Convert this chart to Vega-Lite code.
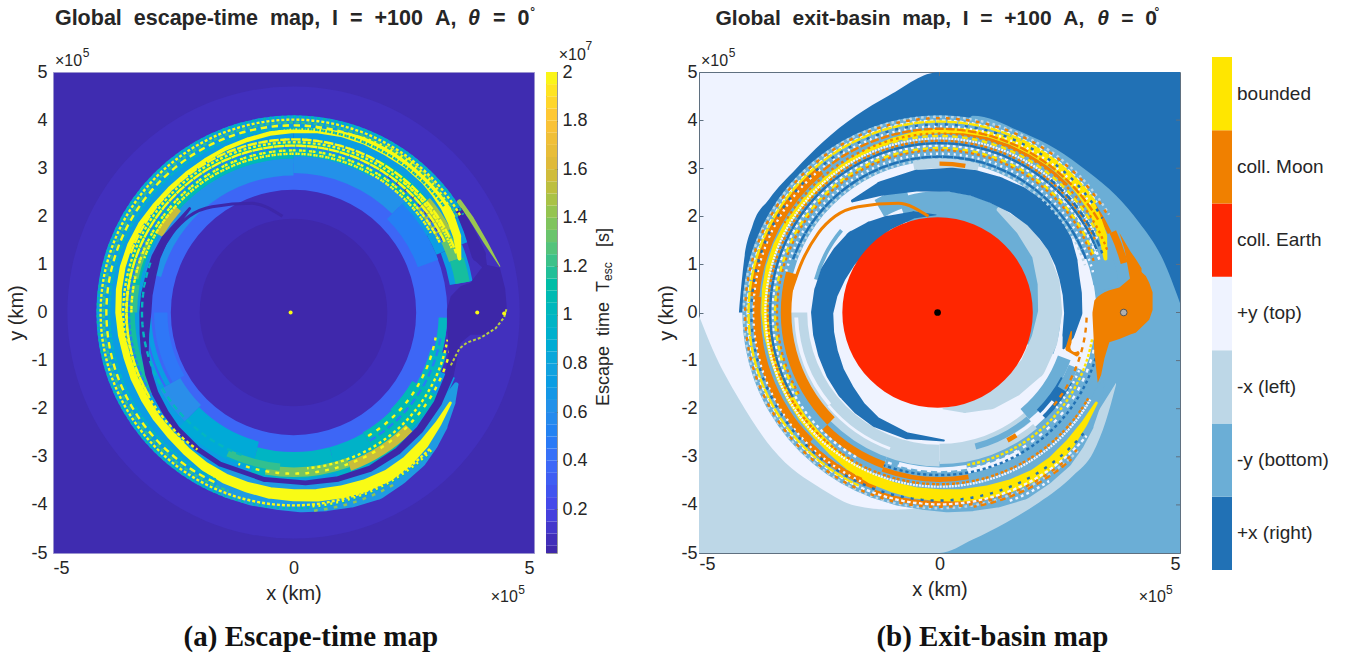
{"$schema":"https://vega.github.io/schema/vega-lite/v6.json","background":"white","padding":{"left":6,"top":5,"right":0,"bottom":0},"bounds":"flush","spacing":12,
"config":{"font":"Liberation Sans","view":{"strokeWidth":1},"axis":{"grid":false,"domain":false,"zindex":1,"labelFont":"Liberation Sans","titleFont":"Liberation Sans","labelFontSize":18,"titleFontSize":20,"titleFontWeight":"normal","labelColor":"#262626","titleColor":"#262626"}},
"datasets":{
"one":[{"n":1}],
"arcsA":[
{"a":0,"b":360,"r":0,"s":4.7,"v":0.08},
{"a":0,"b":360,"r":0,"s":3.2,"v":0.36},
{"a":0,"b":60,"r":3.1,"s":4.1,"v":0.72},{"a":60,"b":68,"r":3.2,"s":4.1,"v":0.72},{"a":68,"b":80,"r":3.3,"s":3.78,"v":0.72},
{"a":112,"b":200,"r":3.1,"s":3.62,"v":0.72},{"a":200,"b":360,"r":3.1,"s":4.1,"v":0.72},
{"a":285,"b":360,"r":2.85,"s":3.2,"v":0.62},{"a":0,"b":45,"r":2.9,"s":3.3,"v":0.62},{"a":45,"b":70,"r":2.75,"s":3.2,"v":0.5},
{"a":300,"b":360,"r":3.2,"s":3.55,"v":1.05},{"a":0,"b":30,"r":3.25,"s":3.55,"v":1.0},{"a":30,"b":50,"r":3.3,"s":3.65,"v":1.1},{"a":280,"b":300,"r":3.25,"s":3.55,"v":1.1},{"a":270,"b":280,"r":3.25,"s":3.5,"v":1.2},{"a":240,"b":270,"r":3.3,"s":3.5,"v":1.15},
{"a":300,"b":312,"r":3.15,"s":3.32,"v":1.55},{"a":282,"b":296,"r":3.3,"s":3.42,"v":1.3},
{"a":50,"b":62,"r":3.35,"s":3.7,"v":1.45},{"a":62,"b":72,"r":3.4,"s":3.65,"v":1.3},{"a":72,"b":80,"r":3.42,"s":3.72,"v":1.15},
{"a":92,"b":105,"r":3.02,"s":3.2,"v":1.0},{"a":105,"b":120,"r":2.95,"s":3.3,"v":1.0},{"a":120,"b":135,"r":2.85,"s":3.45,"v":1.05},{"a":135,"b":150,"r":2.88,"s":3.55,"v":1.05},{"a":150,"b":165,"r":2.9,"s":3.55,"v":0.95},{"a":165,"b":195,"r":2.9,"s":3.45,"v":0.98},{"a":195,"b":225,"r":2.78,"s":3.35,"v":0.85},{"a":225,"b":240,"r":2.72,"s":3.2,"v":0.6},{"a":240,"b":270,"r":2.62,"s":2.9,"v":0.45},
{"a":135,"b":160,"r":3.3,"s":3.5,"v":1.55},{"a":160,"b":190,"r":3.22,"s":3.42,"v":1.35},{"a":185,"b":205,"r":3.15,"s":3.3,"v":1.2},
{"a":240,"b":268,"r":2.96,"s":3.06,"v":0.72},
{"a":0,"b":360,"r":0,"s":2.55,"v":0.065},{"a":0,"b":360,"r":0,"s":1.95,"v":0.03}],
"lowerRing":[{"i":1,"x":3.38,"y":-1.5,"w":0.1},{"i":2,"x":3.22,"y":-1.86,"w":0.3},{"i":3,"x":2.96,"y":-2.32,"w":0.5},{"i":4,"x":2.74,"y":-2.65,"w":0.58},{"i":5,"x":2.48,"y":-2.96,"w":0.65},{"i":6,"x":2.09,"y":-3.28,"w":0.69},{"i":7,"x":1.66,"y":-3.55,"w":0.72},{"i":8,"x":1.17,"y":-3.72,"w":0.67},{"i":9,"x":0.67,"y":-3.82,"w":0.62},{"i":10,"x":0.17,"y":-3.85,"w":0.61},{"i":11,"x":-0.33,"y":-3.8,"w":0.6},{"i":12,"x":-0.82,"y":-3.72,"w":0.6},{"i":13,"x":-1.3,"y":-3.57,"w":0.6}],
"yellowPath":[{"i":1,"x":3.26,"y":-1.88,"w":0.06},{"i":2,"x":3.01,"y":-2.31,"w":0.13},{"i":3,"x":2.72,"y":-2.72,"w":0.2},{"i":4,"x":2.37,"y":-3.09,"w":0.23},{"i":5,"x":1.96,"y":-3.39,"w":0.25},{"i":6,"x":1.49,"y":-3.6,"w":0.26},{"i":7,"x":1.0,"y":-3.73,"w":0.27},{"i":8,"x":0.5,"y":-3.8,"w":0.26},{"i":9,"x":0,"y":-3.8,"w":0.25},{"i":10,"x":-0.5,"y":-3.75,"w":0.24},{"i":11,"x":-0.97,"y":-3.63,"w":0.22},{"i":12,"x":-1.43,"y":-3.45,"w":0.21},{"i":13,"x":-1.85,"y":-3.2,"w":0.2},{"i":14,"x":-2.22,"y":-2.89,"w":0.18},{"i":15,"x":-2.55,"y":-2.55,"w":0.17},{"i":16,"x":-2.85,"y":-2.19,"w":0.16},{"i":17,"x":-3.1,"y":-1.79,"w":0.16},{"i":18,"x":-3.31,"y":-1.37,"w":0.155},{"i":19,"x":-3.46,"y":-0.93,"w":0.15},{"i":20,"x":-3.58,"y":-0.47,"w":0.14},{"i":21,"x":-3.64,"y":0,"w":0.13},{"i":22,"x":-3.63,"y":0.48,"w":0.125},{"i":23,"x":-3.55,"y":0.95,"w":0.12},{"i":24,"x":-3.4,"y":1.41,"w":0.11},{"i":25,"x":-3.18,"y":1.84,"w":0.1},{"i":26,"x":-2.89,"y":2.22,"w":0.1},{"i":27,"x":-2.57,"y":2.57,"w":0.1},{"i":28,"x":-2.22,"y":2.89,"w":0.09},{"i":29,"x":-1.83,"y":3.17,"w":0.08},{"i":30,"x":-1.41,"y":3.41,"w":0.085},{"i":31,"x":-0.96,"y":3.59,"w":0.09},{"i":32,"x":-0.49,"y":3.72,"w":0.095},{"i":33,"x":0,"y":3.78,"w":0.1},{"i":34,"x":0.5,"y":3.78,"w":0.11},{"i":35,"x":0.99,"y":3.71,"w":0.12},{"i":36,"x":1.48,"y":3.57,"w":0.16},{"i":37,"x":1.94,"y":3.36,"w":0.2},{"i":38,"x":2.37,"y":3.09,"w":0.2},{"i":39,"x":2.75,"y":2.75,"w":0.2},{"i":40,"x":2.96,"y":2.49,"w":0.2},{"i":41,"x":3.15,"y":2.21,"w":0.2},{"i":42,"x":3.29,"y":1.9,"w":0.18},{"i":43,"x":3.4,"y":1.59,"w":0.17},{"i":44,"x":3.45,"y":1.12,"w":0.08}],
"channel":[{"i":1,"x":3.37,"y":-0.6,"w":0.2},{"i":2,"x":3.24,"y":-1.31,"w":0.18},{"i":3,"x":3.0,"y":-1.88,"w":0.17},{"i":4,"x":2.62,"y":-2.44,"w":0.16},{"i":5,"x":2.17,"y":-2.88,"w":0.145},{"i":6,"x":1.59,"y":-3.25,"w":0.13},{"i":7,"x":0.93,"y":-3.46,"w":0.115},{"i":8,"x":0.25,"y":-3.54,"w":0.1},{"i":9,"x":-0.61,"y":-3.47,"w":0.1},{"i":10,"x":-1.53,"y":-3.15,"w":0.1},{"i":11,"x":-1.99,"y":-2.84,"w":0.11},{"i":12,"x":-2.42,"y":-2.42,"w":0.12},{"i":13,"x":-2.66,"y":-2.08,"w":0.13},{"i":14,"x":-2.88,"y":-1.67,"w":0.14},{"i":15,"x":-3.01,"y":-1.28,"w":0.15},{"i":16,"x":-3.09,"y":-0.83,"w":0.16},{"i":17,"x":-3.1,"y":-0.44,"w":0.2},{"i":18,"x":-3.08,"y":0,"w":0.25},{"i":19,"x":-3.05,"y":0.37,"w":0.24},{"i":20,"x":-2.96,"y":0.79,"w":0.22},{"i":21,"x":-2.86,"y":1.15,"w":0.19},{"i":22,"x":-2.67,"y":1.54,"w":0.15},{"i":23,"x":-2.16,"y":2.16,"w":0.06}],
"wedgeDark":[{"i":1,"x":3.45,"y":2.1,"w":0.15},{"i":2,"x":3.65,"y":1.7,"w":0.22},{"i":3,"x":3.85,"y":1.2,"w":0.3},{"i":4,"x":3.98,"y":0.95,"w":0.1}],
"wedgeEdge":[{"i":1,"x":3.45,"y":2.3,"w":0.1},{"i":2,"x":3.7,"y":1.95,"w":0.1},{"i":3,"x":4.0,"y":1.45,"w":0.08},{"i":4,"x":4.29,"y":0.96,"w":0.02}],
"dashA":[
{"a":135,"b":420,"r":4.07,"v":1.1,"d":"p1"},{"a":135,"b":420,"r":4.01,"v":2,"d":"p2"},{"a":200,"b":420,"r":3.95,"v":1.2,"d":"p1"},{"a":205,"b":420,"r":3.89,"v":2,"d":"p3"},{"a":205,"b":415,"r":3.83,"v":1.0,"d":"p1"},{"a":290,"b":430,"r":3.6,"v":2,"d":"p3"},{"a":220,"b":420,"r":3.54,"v":2,"d":"p2"},{"a":240,"b":425,"r":3.47,"v":2,"d":"p3"},{"a":240,"b":425,"r":3.42,"v":0.5,"d":"p1"},{"a":270,"b":425,"r":3.37,"v":2,"d":"p2"},{"a":290,"b":420,"r":3.3,"v":2,"d":"p1"},{"a":40,"b":68,"r":3.55,"v":2,"d":"p1"},{"a":35,"b":65,"r":3.45,"v":0.05,"d":"p2"},{"a":100,"b":200,"r":3.35,"v":2,"d":"p2"},{"a":100,"b":175,"r":3.25,"v":2,"d":"p1"},{"a":100,"b":150,"r":3.1,"v":0.5,"d":"p3"},{"a":100,"b":150,"r":3.0,"v":2,"d":"p2"},{"a":135,"b":175,"r":4.05,"v":2,"d":"p1"},{"a":150,"b":175,"r":4.14,"v":1.4,"d":"p2"},{"a":200,"b":290,"r":3.15,"v":1.0,"d":"p2"},{"a":215,"b":285,"r":3.48,"v":2,"d":"p1"}],
"moonA":[{"x":3.19,"y":0.06,"y2":-0.28},{"x":3.27,"y":0.34,"y2":-1.32},{"x":3.37,"y":0.44,"y2":-0.84},{"x":3.48,"y":0.55,"y2":-0.63},{"x":3.68,"y":0.62,"y2":-0.46},{"x":3.88,"y":0.89,"y2":-0.46},{"x":3.98,"y":1.0,"y2":-0.46},{"x":4.15,"y":0.96,"y2":-0.35},{"x":4.29,"y":0.93,"y2":-0.2},{"x":4.4,"y":0.5,"y2":-0.08},{"x":4.43,"y":0.15,"y2":-0.02}],
"edgeA":[{"i":1,"x":3.27,"y":-1.1},{"i":2,"x":3.45,"y":-0.75},{"i":3,"x":3.6,"y":-0.63},{"i":4,"x":3.9,"y":-0.52},{"i":5,"x":4.2,"y":-0.33},{"i":6,"x":4.38,"y":-0.1},{"i":7,"x":4.43,"y":0.08}],
"spiral":[{"i":1,"x":-3.07,"y":0.48},{"i":2,"x":-2.9,"y":0.96},{"i":3,"x":-2.52,"y":1.65},{"i":4,"x":-2.17,"y":2.0},{"i":5,"x":-1.69,"y":2.2},{"i":6,"x":-0.86,"y":2.27},{"i":7,"x":-0.23,"y":2.0}],
"ptsA":[{"x":-0.06,"y":0},{"x":3.82,"y":0},{"x":4.38,"y":-0.02}],
"cbar":[{"y":0.02,"y2":0.05,"v":0.03},{"y":0.05,"y2":0.1,"v":0.07},{"y":0.1,"y2":0.15,"v":0.12},{"y":0.15,"y2":0.2,"v":0.17},{"y":0.2,"y2":0.25,"v":0.22},{"y":0.25,"y2":0.3,"v":0.27},{"y":0.3,"y2":0.35,"v":0.32},{"y":0.35,"y2":0.4,"v":0.37},{"y":0.4,"y2":0.45,"v":0.42},{"y":0.45,"y2":0.5,"v":0.47},{"y":0.5,"y2":0.55,"v":0.52},{"y":0.55,"y2":0.6,"v":0.57},{"y":0.6,"y2":0.65,"v":0.62},{"y":0.65,"y2":0.7,"v":0.67},{"y":0.7,"y2":0.75,"v":0.72},{"y":0.75,"y2":0.8,"v":0.77},{"y":0.8,"y2":0.85,"v":0.82},{"y":0.85,"y2":0.9,"v":0.87},{"y":0.9,"y2":0.95,"v":0.92},{"y":0.95,"y2":1.0,"v":0.97},{"y":1.0,"y2":1.05,"v":1.02},{"y":1.05,"y2":1.1,"v":1.07},{"y":1.1,"y2":1.15,"v":1.12},{"y":1.15,"y2":1.2,"v":1.17},{"y":1.2,"y2":1.25,"v":1.22},{"y":1.25,"y2":1.3,"v":1.27},{"y":1.3,"y2":1.35,"v":1.32},{"y":1.35,"y2":1.4,"v":1.37},{"y":1.4,"y2":1.45,"v":1.42},{"y":1.45,"y2":1.5,"v":1.47},{"y":1.5,"y2":1.55,"v":1.52},{"y":1.55,"y2":1.6,"v":1.57},{"y":1.6,"y2":1.65,"v":1.62},{"y":1.65,"y2":1.7,"v":1.67},{"y":1.7,"y2":1.75,"v":1.72},{"y":1.75,"y2":1.8,"v":1.77},{"y":1.8,"y2":1.85,"v":1.82},{"y":1.85,"y2":1.9,"v":1.87},{"y":1.9,"y2":1.95,"v":1.92},{"y":1.95,"y2":2.0,"v":1.98}],
"darkB":[{"x":-4.17,"y":0,"y2":0},{"x":-4.06,"y":1.11,"y2":0},{"x":-3.89,"y":1.8,"y2":0},{"x":-3.54,"y":2.36,"y2":0},{"x":-2.99,"y":2.98,"y2":0},{"x":-2.43,"y":3.54,"y2":0},{"x":-1.74,"y":4.09,"y2":0},{"x":-1.05,"y":4.51,"y2":0},{"x":0,"y":5,"y2":0},{"x":5,"y":5,"y2":0}],
"medB":[{"x":0,"y":0,"y2":-5},{"x":0.69,"y":4.09,"y2":-5},{"x":1.73,"y":3.74,"y2":-5},{"x":2.42,"y":3.4,"y2":-5},{"x":3.11,"y":2.91,"y2":-5},{"x":3.67,"y":2.43,"y2":-5},{"x":4.15,"y":1.87,"y2":-5},{"x":4.64,"y":1.11,"y2":-5},{"x":5,"y":0.2,"y2":-5}],
"paleB":[{"x":-5,"y":-0.07,"y2":-5},{"x":-4.72,"y":-0.76,"y2":-5},{"x":-4.17,"y":-1.8,"y2":-5},{"x":-3.47,"y":-2.84,"y2":-5},{"x":-2.43,"y":-3.68,"y2":-5},{"x":-1.74,"y":-4.02,"y2":-5},{"x":-1,"y":-4.1,"y2":-5},{"x":0,"y":-4.0,"y2":-5},{"x":0.69,"y":-3.8,"y2":-4.72},{"x":1.38,"y":-3.5,"y2":-4.37},{"x":2.07,"y":-3.2,"y2":-3.95},{"x":2.77,"y":-2.7,"y2":-3.4},{"x":3.2,"y":-2.2,"y2":-2.9},{"x":3.46,"y":-1.8,"y2":-2.25},{"x":3.67,"y":-1.46,"y2":-1.5}],
"arcsB":[
{"a":0,"b":360,"r":0,"s":3.25,"c":"T"},
{"a":0,"b":60,"r":3.15,"s":4.1,"c":"B"},{"a":60,"b":68,"r":3.2,"s":4.1,"c":"B"},{"a":68,"b":82,"r":3.3,"s":3.78,"c":"B"},{"a":112,"b":200,"r":3.1,"s":3.62,"c":"B"},{"a":200,"b":360,"r":3.15,"s":4.1,"c":"B"},
{"a":350,"b":375,"r":3.0,"s":3.2,"c":"L"},{"a":0,"b":10,"r":3.05,"s":3.14,"c":"M"},
{"a":340,"b":470,"r":1.9,"s":2.52,"c":"B"},
{"a":285,"b":310,"r":2.62,"s":2.7,"c":"B"},{"a":330,"b":345,"r":2.3,"s":2.7,"c":"B"},
{"a":180,"b":270,"r":2.75,"s":3.2,"c":"L"},{"a":140,"b":180,"r":2.73,"s":3.15,"c":"L"},{"a":230,"b":268,"r":2.94,"s":3.02,"c":"T"},{"a":200,"b":230,"r":2.98,"s":3.04,"c":"T"},
{"a":110,"b":140,"r":2.62,"s":2.9,"c":"B"},{"a":118,"b":135,"r":2.86,"s":3.12,"c":"R"},{"a":112,"b":122,"r":2.9,"s":3.1,"c":"B"},{"a":128,"b":150,"r":2.96,"s":3.03,"c":"T"},{"a":148,"b":152,"r":2.96,"s":3.06,"c":"M"},{"a":140,"b":165,"r":2.82,"s":2.95,"c":"B"},
{"a":80,"b":100,"r":3.0,"s":3.26,"c":"T"},
{"a":225,"b":285,"r":3.08,"s":3.3,"c":"M"},{"a":200,"b":225,"r":3.3,"s":3.45,"c":"M"},{"a":170,"b":200,"r":3.42,"s":3.52,"c":"M"},{"a":150,"b":170,"r":3.3,"s":3.4,"c":"T"},{"a":170,"b":195,"r":3.22,"s":3.3,"c":"T"},
{"a":275,"b":320,"r":3.76,"s":3.95,"c":"M"},{"a":225,"b":275,"r":3.72,"s":3.88,"c":"M"},{"a":200,"b":225,"r":3.8,"s":3.92,"c":"M"},{"a":150,"b":200,"r":3.92,"s":4.02,"c":"M"},{"a":0,"b":45,"r":3.72,"s":3.78,"c":"M"},{"a":45,"b":65,"r":3.86,"s":3.95,"c":"M"},{"a":65,"b":75,"r":3.9,"s":4.05,"c":"M"}],
"paleInner":[{"i":1,"x":1.24,"y":2.14,"w":0.1},{"i":2,"x":1.73,"y":1.73,"w":0.28},{"i":3,"x":2.1,"y":1.21,"w":0.36},{"i":4,"x":2.27,"y":0.61,"w":0.46},{"i":5,"x":2.3,"y":0,"w":0.5},{"i":6,"x":2.18,"y":-0.58,"w":0.55},{"i":7,"x":1.94,"y":-1.12,"w":0.54},{"i":8,"x":1.53,"y":-1.53,"w":0.45},{"i":9,"x":1.06,"y":-1.84,"w":0.35},{"i":10,"x":0.53,"y":-1.99,"w":0.2},{"i":11,"x":0.07,"y":-2.0,"w":0.02}],
"darkLower":[{"i":1,"x":0.09,"y":-2.66,"w":0.04},{"i":2,"x":-0.69,"y":-2.56,"w":0.14},{"i":3,"x":-1.32,"y":-2.28,"w":0.22},{"i":4,"x":-1.67,"y":-1.98,"w":0.29},{"i":5,"x":-1.95,"y":-1.63,"w":0.36},{"i":6,"x":-2.17,"y":-1.25,"w":0.39},{"i":7,"x":-2.32,"y":-0.84,"w":0.42},{"i":8,"x":-2.41,"y":-0.43,"w":0.44},{"i":9,"x":-2.44,"y":0,"w":0.46},{"i":10,"x":-2.36,"y":0.42,"w":0.5},{"i":11,"x":-2.21,"y":0.8,"w":0.55},{"i":12,"x":-1.99,"y":1.15,"w":0.55},{"i":13,"x":-1.72,"y":1.45,"w":0.55},{"i":14,"x":-1.41,"y":1.69,"w":0.42},{"i":15,"x":-1.08,"y":1.86,"w":0.3},{"i":16,"x":-0.54,"y":2.03,"w":0.15},{"i":17,"x":-0.07,"y":2.03,"w":0.02}],
"darkTop":[{"i":1,"x":-1.81,"y":2.32,"w":0.06},{"i":2,"x":-1.2,"y":2.58,"w":0.3},{"i":3,"x":-0.48,"y":2.74,"w":0.45},{"i":4,"x":0.24,"y":2.76,"w":0.5},{"i":5,"x":0.72,"y":2.69,"w":0.54},{"i":6,"x":1.18,"y":2.54,"w":0.58},{"i":7,"x":1.63,"y":2.33,"w":0.6},{"i":8,"x":2.04,"y":2.04,"w":0.62},{"i":9,"x":2.3,"y":1.73,"w":0.59},{"i":10,"x":2.49,"y":1.44,"w":0.55},{"i":11,"x":2.63,"y":1.06,"w":0.48},{"i":12,"x":2.7,"y":0.73,"w":0.42},{"i":13,"x":2.76,"y":0.39,"w":0.4},{"i":14,"x":2.78,"y":0,"w":0.38},{"i":15,"x":2.68,"y":-0.47,"w":0.25},{"i":16,"x":2.58,"y":-0.74,"w":0.05}],
"orangeTip":[{"i":1,"x":2.74,"y":-0.4,"w":0.03},{"i":2,"x":2.68,"y":-0.75,"w":0.12},{"i":3,"x":2.85,"y":-0.85,"w":0.12}],
"whiteTip":[{"i":1,"x":3.05,"y":-0.1,"w":0.02},{"i":2,"x":2.9,"y":-0.5,"w":0.16},{"i":3,"x":2.82,"y":-0.72,"w":0.2}],
"dashB":[
{"a":135,"b":420,"r":4.07,"c":"L","d":"p1"},{"a":135,"b":420,"r":4.04,"c":"M","d":"p2"},{"a":130,"b":415,"r":3.99,"c":"T","d":"p1"},{"a":205,"b":415,"r":3.97,"c":"X","d":"p3"},{"a":130,"b":420,"r":3.91,"c":"R","d":"p2"},{"a":205,"b":415,"r":3.87,"c":"T","d":"p1"},{"a":205,"b":420,"r":3.82,"c":"M","d":"p3"},{"a":300,"b":430,"r":3.72,"c":"M","d":"p1"},{"a":300,"b":430,"r":3.67,"c":"X","d":"p2"},{"a":120,"b":425,"r":3.62,"c":"T","d":"p1"},{"a":120,"b":425,"r":3.57,"c":"M","d":"p2"},{"a":240,"b":428,"r":3.52,"c":"R","d":"p3"},{"a":210,"b":430,"r":3.47,"c":"T","d":"p1"},{"a":240,"b":430,"r":3.42,"c":"X","d":"p2"},{"a":240,"b":432,"r":3.38,"c":"M","d":"p1"},{"a":100,"b":200,"r":3.38,"c":"R","d":"p1"},{"a":100,"b":200,"r":3.3,"c":"T","d":"p2"},{"a":100,"b":170,"r":3.22,"c":"X","d":"p2"},{"a":285,"b":436,"r":3.3,"c":"T","d":"p1"},{"a":290,"b":430,"r":3.24,"c":"R","d":"p3"},{"a":290,"b":432,"r":3.18,"c":"L","d":"p1"},{"a":92,"b":130,"r":3.14,"c":"T","d":"p1"},{"a":92,"b":130,"r":3.06,"c":"M","d":"p2"},{"a":40,"b":70,"r":3.6,"c":"R","d":"p3"},{"a":40,"b":72,"r":3.5,"c":"T","d":"p2"},{"a":138,"b":170,"r":4.1,"c":"M","d":"p2"},{"a":147,"b":160,"r":4.18,"c":"T","d":"p1"}],
"moonB":[{"x":3.18,"y":0,"y2":-0.05},{"x":3.22,"y":0.25,"y2":-0.85},{"x":3.29,"y":0.33,"y2":-1.46},{"x":3.36,"y":0.38,"y2":-1.3},{"x":3.43,"y":0.42,"y2":-0.95},{"x":3.53,"y":0.46,"y2":-0.62},{"x":3.74,"y":0.52,"y2":-0.55},{"x":3.98,"y":0.72,"y2":-0.45},{"x":4.08,"y":0.95,"y2":-0.42},{"x":4.29,"y":0.76,"y2":-0.22},{"x":4.36,"y":0.62,"y2":-0.15},{"x":4.43,"y":0.42,"y2":0.05}],
"wingB":[{"x":3.74,"y":1.66,"y2":1.66},{"x":3.85,"y":1.47,"y2":1.3},{"x":3.97,"y":1.27,"y2":0.65},{"x":4.08,"y":1.11,"y2":0.6},{"x":4.2,"y":0.92,"y2":0.6}],
"redB":[{"a":0,"b":360,"r":0,"s":1.98,"c":"E"}],
"earthB":[{"x":-0.04,"y":0}],"moonPt":[{"x":3.83,"y":0}],
"ticksY":[{"t":-4},{"t":-3},{"t":-2},{"t":-1},{"t":0},{"t":1},{"t":2},{"t":3},{"t":4}],
"ticksX":[{"t":0}],
"bins":[{"i":0,"j":1,"c":"R","m":0.5,"label":"+x (right)"},{"i":1,"j":2,"c":"B","m":1.5,"label":"-y (bottom)"},{"i":2,"j":3,"c":"L","m":2.5,"label":"-x (left)"},{"i":3,"j":4,"c":"T","m":3.5,"label":"+y (top)"},{"i":4,"j":5,"c":"E","m":4.5,"label":"coll. Earth"},{"i":5,"j":6,"c":"M","m":5.5,"label":"coll. Moon"},{"i":6,"j":7,"c":"X","m":6.5,"label":"bounded"}]
},
"hconcat":[
{"width":481,"height":481,"view":{"fill":"#3f2cb0","stroke":"#9a93cf"},"data":{"name":"one"},
"layer":[
{"data":{"name":"arcsA"},"mark":{"type":"arc"},"encoding":{
"x":{"datum":0,"type":"quantitative","scale":{"domain":[-5,5],"nice":false},"axis":{"values":[-5,0,5],"title":"x (km)","tickSize":0,"labelPadding":6,"titlePadding":6,"labelExpr":"datum.value"}},
"y":{"datum":0,"type":"quantitative","scale":{"domain":[-5,5],"nice":false},"axis":{"values":[-5,-4,-3,-2,-1,0,1,2,3,4,5],"title":"y (km)","tickSize":0,"labelPadding":6,"titlePadding":4,"labelExpr":"datum.value"}},
"theta":{"field":"a","type":"quantitative","scale":{"domain":[0,360],"range":[0,6.283185]}},"theta2":{"field":"b"},
"radius":{"field":"s","type":"quantitative","scale":{"type":"linear","domain":[0,5],"range":[0,240.5]}},"radius2":{"field":"r"},
"color":{"field":"v","type":"quantitative","legend":null,"scale":{"domain":[0.02,0.2,0.4,0.6,0.8,1,1.2,1.4,1.6,1.8,2],"range":["#3e26a8","#4645e8","#3d6df9","#2a8eea","#1aa5dc","#04b6c0","#32c08f","#8dc455","#dcb93b","#fec336","#f9fb15"]}}}},
{"data":{"name":"lowerRing"},"mark":{"type":"trail","color":"#1f9be2"},"encoding":{"x":{"field":"x","type":"quantitative"},"y":{"field":"y","type":"quantitative"},"order":{"field":"i"},"size":{"field":"w","type":"quantitative","legend":null,"scale":{"domain":[0,1],"range":[0,48.1]}}}},
{"data":{"name":"channel"},"mark":{"type":"trail","color":"#3d27a8"},"encoding":{"x":{"field":"x","type":"quantitative"},"y":{"field":"y","type":"quantitative"},"order":{"field":"i"},"size":{"field":"w","type":"quantitative","legend":null}}},
{"data":{"name":"yellowPath"},"mark":{"type":"trail","color":"#f9fb15"},"encoding":{"x":{"field":"x","type":"quantitative"},"y":{"field":"y","type":"quantitative"},"order":{"field":"i"},"size":{"field":"w","type":"quantitative","legend":null}}},
{"data":{"name":"wedgeEdge"},"mark":{"type":"trail","color":"#9ac850"},"encoding":{"x":{"field":"x","type":"quantitative"},"y":{"field":"y","type":"quantitative"},"order":{"field":"i"},"size":{"field":"w","type":"quantitative","legend":null}}},
{"data":{"name":"wedgeDark"},"mark":{"type":"trail","color":"#3d27a8"},"encoding":{"x":{"field":"x","type":"quantitative"},"y":{"field":"y","type":"quantitative"},"order":{"field":"i"},"size":{"field":"w","type":"quantitative","legend":null}}},
{"data":{"name":"dashA"},"transform":[{"filter":"datum.d=='p1'"}],"mark":{"type":"arc","filled":false,"strokeWidth":2.4,"strokeDash":[2,4]},"encoding":{
"x":{"datum":0,"type":"quantitative"},"y":{"datum":0,"type":"quantitative"},"theta":{"field":"a","type":"quantitative"},"theta2":{"field":"b"},"radius":{"field":"r","type":"quantitative"},"radius2":{"field":"r"},"color":{"field":"v","type":"quantitative","legend":null}}},
{"data":{"name":"dashA"},"transform":[{"filter":"datum.d=='p2'"}],"mark":{"type":"arc","filled":false,"strokeWidth":2.4,"strokeDash":[3,7]},"encoding":{
"x":{"datum":0,"type":"quantitative"},"y":{"datum":0,"type":"quantitative"},"theta":{"field":"a","type":"quantitative"},"theta2":{"field":"b"},"radius":{"field":"r","type":"quantitative"},"radius2":{"field":"r"},"color":{"field":"v","type":"quantitative","legend":null}}},
{"data":{"name":"dashA"},"transform":[{"filter":"datum.d=='p3'"}],"mark":{"type":"arc","filled":false,"strokeWidth":2.4,"strokeDash":[6,5]},"encoding":{
"x":{"datum":0,"type":"quantitative"},"y":{"datum":0,"type":"quantitative"},"theta":{"field":"a","type":"quantitative"},"theta2":{"field":"b"},"radius":{"field":"r","type":"quantitative"},"radius2":{"field":"r"},"color":{"field":"v","type":"quantitative","legend":null}}},
{"data":{"name":"moonA"},"mark":{"type":"area","color":"#3d27a8"},"encoding":{"x":{"field":"x","type":"quantitative"},"y":{"field":"y","type":"quantitative"},"y2":{"field":"y2"}}},
{"data":{"name":"edgeA"},"mark":{"type":"line","color":"#b9d03f","strokeWidth":2,"strokeDash":[3,2]},"encoding":{"x":{"field":"x","type":"quantitative"},"y":{"field":"y","type":"quantitative"},"order":{"field":"i"}}},
{"data":{"name":"spiral"},"mark":{"type":"line","color":"#3d27a8","strokeWidth":3,"interpolate":"monotone"},"encoding":{"x":{"field":"x","type":"quantitative"},"y":{"field":"y","type":"quantitative"},"order":{"field":"i"}}},
{"data":{"name":"ptsA"},"mark":{"type":"point","filled":true,"color":"#f9fb15","size":16,"opacity":1},"encoding":{"x":{"field":"x","type":"quantitative"},"y":{"field":"y","type":"quantitative"}}},
{"mark":{"type":"text","text":"×10","align":"left","baseline":"alphabetic","fontSize":16,"color":"#262626"},"encoding":{"x":{"datum":-4.96,"type":"quantitative"},"y":{"datum":5.12,"type":"quantitative"}}},
{"mark":{"type":"text","text":"5","align":"left","baseline":"alphabetic","fontSize":12,"color":"#262626"},"encoding":{"x":{"datum":-4.38,"type":"quantitative"},"y":{"datum":5.31,"type":"quantitative"}}},
{"mark":{"type":"text","text":"×10","align":"left","baseline":"alphabetic","fontSize":16,"color":"#262626"},"encoding":{"x":{"datum":4.1,"type":"quantitative"},"y":{"datum":-6.02,"type":"quantitative"}}},
{"mark":{"type":"text","text":"5","align":"left","baseline":"alphabetic","fontSize":12,"color":"#262626"},"encoding":{"x":{"datum":4.67,"type":"quantitative"},"y":{"datum":-5.85,"type":"quantitative"}}},
{"mark":{"type":"text","text":"Global\u00a0\u00a0escape-time\u00a0\u00a0map,\u00a0\u00a0I\u00a0\u00a0=\u00a0\u00a0+100\u00a0\u00a0A,","align":"left","baseline":"middle","fontSize":21.5,"fontWeight":"bold","color":"#262626"},"encoding":{"x":{"datum":-4.96,"type":"quantitative"},"y":{"datum":6.1,"type":"quantitative"}}},
{"mark":{"type":"text","text":"θ","align":"left","baseline":"middle","fontSize":21.5,"fontWeight":"bold","fontStyle":"italic","color":"#262626"},"encoding":{"x":{"datum":3.63,"type":"quantitative"},"y":{"datum":6.1,"type":"quantitative"}}},
{"mark":{"type":"text","text":"=\u00a0\u00a00","align":"left","baseline":"middle","fontSize":21.5,"fontWeight":"bold","color":"#262626"},"encoding":{"x":{"datum":4.15,"type":"quantitative"},"y":{"datum":6.1,"type":"quantitative"}}},
{"mark":{"type":"text","text":"°","align":"left","baseline":"middle","fontSize":12,"fontWeight":"bold","color":"#262626"},"encoding":{"x":{"datum":4.92,"type":"quantitative"},"y":{"datum":6.25,"type":"quantitative"}}},
{"mark":{"type":"text","text":"(a) Escape-time map","align":"center","baseline":"middle","font":"Liberation Serif","fontSize":29,"fontWeight":"bold","color":"#111111"},"encoding":{"x":{"datum":0.36,"type":"quantitative"},"y":{"datum":-6.75,"type":"quantitative"}}}
]},
{"width":11,"height":481,"view":{"stroke":"#9a9a9a"},"data":{"name":"one"},"layer":[
{"data":{"name":"cbar"},"mark":{"type":"rect"},"encoding":{
"x":{"datum":0,"type":"quantitative","axis":null,"scale":{"domain":[0,1],"nice":false}},"x2":{"datum":1},
"y":{"field":"y","type":"quantitative","scale":{"domain":[0.02,2],"nice":false,"zero":false},"axis":{"orient":"right","values":[0.2,0.4,0.6,0.8,1,1.2,1.4,1.6,1.8,2],"title":null,"tickSize":-3,"tickColor":"#7a7a40","labelPadding":8,"labelExpr":"datum.value"}},"y2":{"field":"y2"},
"color":{"field":"v","type":"quantitative","legend":null,"scale":{"domain":[0.02,0.2,0.4,0.6,0.8,1,1.2,1.4,1.6,1.8,2],"range":["#3e26a8","#4645e8","#3d6df9","#2a8eea","#1aa5dc","#04b6c0","#32c08f","#8dc455","#dcb93b","#fec336","#f9fb15"]}}}},
{"mark":{"type":"text","text":"×10","align":"left","baseline":"alphabetic","fontSize":16,"color":"#262626"},"encoding":{"x":{"datum":1.15,"type":"quantitative"},"y":{"datum":2.05,"type":"quantitative"}}},
{"mark":{"type":"text","text":"7","align":"left","baseline":"alphabetic","fontSize":12,"color":"#262626"},"encoding":{"x":{"datum":3.6,"type":"quantitative"},"y":{"datum":2.09,"type":"quantitative"}}},
{"mark":{"type":"text","text":"Escape\u00a0\u00a0time\u00a0\u00a0T","angle":270,"align":"left","baseline":"middle","fontSize":18,"color":"#262626"},"encoding":{"x":{"datum":5.27,"type":"quantitative"},"y":{"datum":0.625,"type":"quantitative"}}},
{"mark":{"type":"text","text":"esc","angle":270,"align":"left","baseline":"middle","fontSize":12,"color":"#262626"},"encoding":{"x":{"datum":5.6,"type":"quantitative"},"y":{"datum":1.14,"type":"quantitative"}}},
{"mark":{"type":"text","text":"[s]","angle":270,"align":"left","baseline":"middle","fontSize":18,"color":"#262626"},"encoding":{"x":{"datum":5.27,"type":"quantitative"},"y":{"datum":1.28,"type":"quantitative"}}}
]},
{"width":118,"height":481,"view":{"stroke":null},"data":{"name":"one"},"mark":{"type":"text","text":" "},"encoding":{}},
{"width":481,"height":481,"view":{"fill":"#eff3ff","stroke":"#5f7080"},"data":{"name":"one"},
"layer":[
{"data":{"name":"darkB"},"mark":{"type":"area","color":"#2171b5","interpolate":"monotone"},"encoding":{
"x":{"field":"x","type":"quantitative","scale":{"domain":[-5,5],"nice":false},"axis":{"values":[-5,0,5],"title":"x (km)","tickSize":-4,"tickColor":"#5f7080","labelPadding":6,"titlePadding":6,"labelExpr":"datum.value"}},
"y":{"field":"y","type":"quantitative","scale":{"domain":[-5,5],"nice":false},"axis":{"values":[-5,-4,-3,-2,-1,0,1,2,3,4,5],"title":"y (km)","tickSize":-4,"tickColor":"#5f7080","labelPadding":6,"titlePadding":4,"labelExpr":"datum.value"}},"y2":{"field":"y2"}}},
{"data":{"name":"medB"},"mark":{"type":"area","color":"#6baed6","interpolate":"monotone"},"encoding":{"x":{"field":"x","type":"quantitative"},"y":{"field":"y","type":"quantitative"},"y2":{"field":"y2"}}},
{"data":{"name":"paleB"},"mark":{"type":"area","color":"#bdd7e7","interpolate":"monotone"},"encoding":{"x":{"field":"x","type":"quantitative"},"y":{"field":"y","type":"quantitative"},"y2":{"field":"y2"}}},
{"data":{"name":"lowerRing"},"mark":{"type":"trail","color":"#6baed6"},"encoding":{"x":{"field":"x","type":"quantitative"},"y":{"field":"y","type":"quantitative"},"order":{"field":"i"},"size":{"field":"w","type":"quantitative","legend":null,"scale":{"domain":[0,1],"range":[0,48.1]}}}},
{"data":{"name":"arcsB"},"mark":{"type":"arc"},"encoding":{
"x":{"datum":0,"type":"quantitative"},"y":{"datum":0,"type":"quantitative"},
"theta":{"field":"a","type":"quantitative","scale":{"domain":[0,360],"range":[0,6.283185]}},"theta2":{"field":"b"},
"radius":{"field":"s","type":"quantitative","scale":{"type":"linear","domain":[0,5],"range":[0,240.5]}},"radius2":{"field":"r"},
"color":{"field":"c","type":"nominal","legend":null,"scale":{"domain":["R","B","L","T","E","M","X"],"range":["#2171b5","#6baed6","#bdd7e7","#eff3ff","#ff2600","#f08000","#ffe600"]}}}},
{"data":{"name":"paleInner"},"mark":{"type":"trail","color":"#bdd7e7"},"encoding":{"x":{"field":"x","type":"quantitative"},"y":{"field":"y","type":"quantitative"},"order":{"field":"i"},"size":{"field":"w","type":"quantitative","legend":null}}},
{"data":{"name":"darkLower"},"mark":{"type":"trail","color":"#2171b5"},"encoding":{"x":{"field":"x","type":"quantitative"},"y":{"field":"y","type":"quantitative"},"order":{"field":"i"},"size":{"field":"w","type":"quantitative","legend":null}}},
{"data":{"name":"darkTop"},"mark":{"type":"trail","color":"#2171b5"},"encoding":{"x":{"field":"x","type":"quantitative"},"y":{"field":"y","type":"quantitative"},"order":{"field":"i"},"size":{"field":"w","type":"quantitative","legend":null}}},
{"data":{"name":"orangeTip"},"mark":{"type":"trail","color":"#f08000"},"encoding":{"x":{"field":"x","type":"quantitative"},"y":{"field":"y","type":"quantitative"},"order":{"field":"i"},"size":{"field":"w","type":"quantitative","legend":null}}},
{"data":{"name":"whiteTip"},"mark":{"type":"trail","color":"#eff3ff"},"encoding":{"x":{"field":"x","type":"quantitative"},"y":{"field":"y","type":"quantitative"},"order":{"field":"i"},"size":{"field":"w","type":"quantitative","legend":null}}},
{"data":{"name":"yellowPath"},"mark":{"type":"trail","color":"#ffe600"},"encoding":{"x":{"field":"x","type":"quantitative"},"y":{"field":"y","type":"quantitative"},"order":{"field":"i"},"size":{"field":"w","type":"quantitative","legend":null}}},
{"data":{"name":"dashB"},"transform":[{"filter":"datum.d=='p1'"}],"mark":{"type":"arc","filled":false,"strokeWidth":2.4,"strokeDash":[2,4]},"encoding":{
"x":{"datum":0,"type":"quantitative"},"y":{"datum":0,"type":"quantitative"},"theta":{"field":"a","type":"quantitative"},"theta2":{"field":"b"},"radius":{"field":"r","type":"quantitative"},"radius2":{"field":"r"},"color":{"field":"c","type":"nominal","legend":null}}},
{"data":{"name":"dashB"},"transform":[{"filter":"datum.d=='p2'"}],"mark":{"type":"arc","filled":false,"strokeWidth":2.4,"strokeDash":[3,7]},"encoding":{
"x":{"datum":0,"type":"quantitative"},"y":{"datum":0,"type":"quantitative"},"theta":{"field":"a","type":"quantitative"},"theta2":{"field":"b"},"radius":{"field":"r","type":"quantitative"},"radius2":{"field":"r"},"color":{"field":"c","type":"nominal","legend":null}}},
{"data":{"name":"dashB"},"transform":[{"filter":"datum.d=='p3'"}],"mark":{"type":"arc","filled":false,"strokeWidth":2.4,"strokeDash":[6,5]},"encoding":{
"x":{"datum":0,"type":"quantitative"},"y":{"datum":0,"type":"quantitative"},"theta":{"field":"a","type":"quantitative"},"theta2":{"field":"b"},"radius":{"field":"r","type":"quantitative"},"radius2":{"field":"r"},"color":{"field":"c","type":"nominal","legend":null}}},
{"data":{"name":"spiral"},"mark":{"type":"line","color":"#f08000","strokeWidth":3,"interpolate":"monotone"},"encoding":{"x":{"field":"x","type":"quantitative"},"y":{"field":"y","type":"quantitative"},"order":{"field":"i"}}},
{"data":{"name":"moonB"},"mark":{"type":"area","color":"#f08000"},"encoding":{"x":{"field":"x","type":"quantitative"},"y":{"field":"y","type":"quantitative"},"y2":{"field":"y2"}}},
{"data":{"name":"wingB"},"mark":{"type":"area","color":"#f08000"},"encoding":{"x":{"field":"x","type":"quantitative"},"y":{"field":"y","type":"quantitative"},"y2":{"field":"y2"}}},
{"data":{"name":"redB"},"mark":{"type":"arc"},"encoding":{
"x":{"datum":-0.04,"type":"quantitative"},"y":{"datum":0,"type":"quantitative"},
"theta":{"field":"a","type":"quantitative"},"theta2":{"field":"b"},
"radius":{"field":"s","type":"quantitative"},"radius2":{"field":"r"},
"color":{"field":"c","type":"nominal","legend":null}}},
{"data":{"name":"earthB"},"mark":{"type":"point","filled":true,"color":"#000000","size":45,"opacity":1},"encoding":{"x":{"field":"x","type":"quantitative"},"y":{"field":"y","type":"quantitative"}}},
{"data":{"name":"moonPt"},"mark":{"type":"point","filled":true,"fill":"#b0b0b0","stroke":"#555555","strokeWidth":1,"size":45,"opacity":1},"encoding":{"x":{"field":"x","type":"quantitative"},"y":{"field":"y","type":"quantitative"}}},
{"data":{"name":"ticksY"},"mark":{"type":"tick","orient":"horizontal","size":8,"thickness":1,"color":"#5f7080","opacity":1,"clip":true},"encoding":{"x":{"datum":5,"type":"quantitative"},"y":{"field":"t","type":"quantitative"}}},
{"data":{"name":"ticksX"},"mark":{"type":"tick","orient":"vertical","size":8,"thickness":1,"color":"#5f7080","opacity":1,"clip":true},"encoding":{"y":{"datum":5,"type":"quantitative"},"x":{"field":"t","type":"quantitative"}}},
{"mark":{"type":"text","text":"×10","align":"left","baseline":"alphabetic","fontSize":16,"color":"#262626"},"encoding":{"x":{"datum":-4.96,"type":"quantitative"},"y":{"datum":5.12,"type":"quantitative"}}},
{"mark":{"type":"text","text":"5","align":"left","baseline":"alphabetic","fontSize":12,"color":"#262626"},"encoding":{"x":{"datum":-4.38,"type":"quantitative"},"y":{"datum":5.31,"type":"quantitative"}}},
{"mark":{"type":"text","text":"×10","align":"left","baseline":"alphabetic","fontSize":16,"color":"#262626"},"encoding":{"x":{"datum":4.14,"type":"quantitative"},"y":{"datum":-6.02,"type":"quantitative"}}},
{"mark":{"type":"text","text":"5","align":"left","baseline":"alphabetic","fontSize":12,"color":"#262626"},"encoding":{"x":{"datum":4.71,"type":"quantitative"},"y":{"datum":-5.85,"type":"quantitative"}}},
{"mark":{"type":"text","text":"Global\u00a0\u00a0exit-basin\u00a0\u00a0map,\u00a0\u00a0I\u00a0\u00a0=\u00a0\u00a0+100\u00a0\u00a0A,","align":"right","baseline":"middle","fontSize":21,"fontWeight":"bold","color":"#262626"},"encoding":{"x":{"datum":3.01,"type":"quantitative"},"y":{"datum":6.1,"type":"quantitative"}}},
{"mark":{"type":"text","text":"θ","align":"left","baseline":"middle","fontSize":21,"fontWeight":"bold","fontStyle":"italic","color":"#262626"},"encoding":{"x":{"datum":3.28,"type":"quantitative"},"y":{"datum":6.1,"type":"quantitative"}}},
{"mark":{"type":"text","text":"=\u00a0\u00a00","align":"left","baseline":"middle","fontSize":21,"fontWeight":"bold","color":"#262626"},"encoding":{"x":{"datum":3.78,"type":"quantitative"},"y":{"datum":6.1,"type":"quantitative"}}},
{"mark":{"type":"text","text":"°","align":"left","baseline":"middle","fontSize":12,"fontWeight":"bold","color":"#262626"},"encoding":{"x":{"datum":4.47,"type":"quantitative"},"y":{"datum":6.25,"type":"quantitative"}}},
{"mark":{"type":"text","text":"(b) Exit-basin map","align":"center","baseline":"middle","font":"Liberation Serif","fontSize":29,"fontWeight":"bold","color":"#111111"},"encoding":{"x":{"datum":1.1,"type":"quantitative"},"y":{"datum":-6.75,"type":"quantitative"}}}
]},
{"width":8,"height":481,"view":{"stroke":null},"data":{"name":"one"},"mark":{"type":"text","text":" "},"encoding":{}},
{"width":20,"height":481,"view":{"stroke":null},"layer":[
{"data":{"name":"bins"},"mark":{"type":"rect"},"encoding":{
"x":{"datum":0,"type":"quantitative","axis":null,"scale":{"domain":[0,1],"nice":false}},"x2":{"datum":1},
"y":{"field":"i","type":"quantitative","axis":null,"scale":{"domain":[0.232,6.795],"nice":false,"zero":false}},"y2":{"field":"j"},
"color":{"field":"c","type":"nominal","legend":null,"scale":{"domain":["R","B","L","T","E","M","X"],"range":["#2171b5","#6baed6","#bdd7e7","#eff3ff","#ff2600","#f08000","#ffe600"]}}}},
{"data":{"name":"bins"},"mark":{"type":"text","align":"left","baseline":"middle","fontSize":19,"color":"#262626","dx":5},"encoding":{"x":{"datum":1,"type":"quantitative"},"y":{"field":"m","type":"quantitative"},"text":{"field":"label"}}}
]}
]}
